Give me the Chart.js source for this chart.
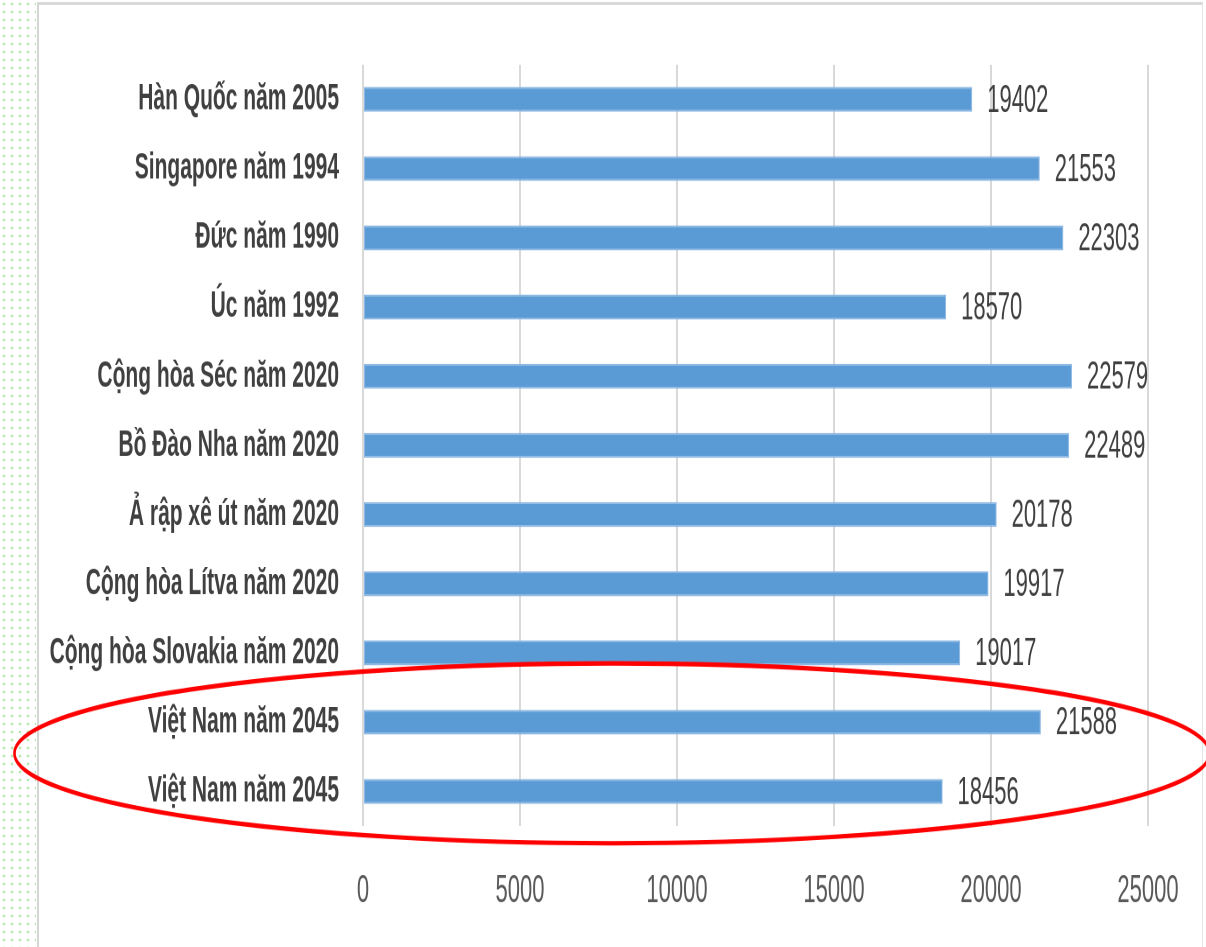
<!DOCTYPE html>
<html>
<head>
<meta charset="utf-8">
<script src="https://cdn.jsdelivr.net/npm/chart.js@4"></script>
<style>
  html, body { margin: 0; padding: 0; background: #fff; }
  body { width: 1206px; height: 947px; position: relative; overflow: hidden; }
  #dots {
    position: absolute; left: 0; top: 0; width: 36px; height: 947px;
    background-image: radial-gradient(circle, #b9e8ae 1.2px, transparent 1.7px);
    background-size: 8px 8px;
  }
  #frame {
    position: absolute; left: 37px; top: 2px; width: 1163px; height: 960px;
    border-left: 2px solid #d6d6d6; border-top: 3px solid #d9d9d9; border-right: 1px solid #e6e6e6;
  }
  #wrap {
    position: absolute; left: 0; top: 0; width: 1206px; height: 541px;
    transform: scale(1, 1.75); transform-origin: 0 0;
  }
</style>
</head>
<body>
<div id="dots"></div>
<div id="frame"></div>
<div id="wrap"><canvas id="myChart"></canvas></div>
<script>
const categories = ['Hàn Quốc năm 2005', 'Singapore năm 1994', 'Đức năm 1990', 'Úc năm 1992',
    'Cộng hòa Séc năm 2020', 'Bồ Đào Nha năm 2020', 'Ả rập xê út năm 2020', 'Cộng hòa Lítva năm 2020',
    'Cộng hòa Slovakia năm 2020', 'Việt Nam năm 2045', 'Việt Nam năm 2045']
const values = [19402, 21553, 22303, 18570, 22579, 22489, 20178, 19917, 19017, 21588, 18456]
const xTicks = [0, 5000, 10000, 15000, 20000, 25000]

const FONT = '"Liberation Sans Narrow", "Liberation Sans", sans-serif'

// so the numbers go at the end of each bar
const valueLabels = {
    id: 'valueLabels',
    afterDatasetsDraw(chart){
        const ctx = chart.ctx
        const meta = chart.getDatasetMeta(0)
        ctx.save()
        ctx.font = `22px ${FONT}`
        ctx.fillStyle = '#404040'
        ctx.textAlign = 'left'
        ctx.textBaseline = 'middle'
        meta.data.forEach((bar, i) => {
            ctx.fillText(String(values[i]), bar.x + 15, bar.y + 1)
        })
        ctx.restore()
    }
}

// red ring around the two last rows
const ring = {
    id: 'ring',
    afterDraw(chart){
        const ctx = chart.ctx
        const y = chart.scales.y
        const n = categories.length
        const cy = (y.getPixelForValue(n - 2) + y.getPixelForValue(n - 1)) / 2 - 2
        const step = y.getPixelForValue(1) - y.getPixelForValue(0)
        ctx.save()
        ctx.strokeStyle = '#ff0000'
        ctx.lineWidth = 2.6
        ctx.beginPath()
        ctx.ellipse(chart.width * 0.5075, cy, chart.width * 0.4955, step * 1.3, 0, 0, Math.PI * 2)
        ctx.stroke()
        ctx.restore()
    }
}

const ctx = document.getElementById('myChart')
new Chart(ctx, {
    type: 'bar',
    data: {
        labels: categories,
        datasets: [{
            data: values,
            backgroundColor: '#5b9bd5',
            borderColor: '#8db8e3',
            borderWidth: 1,
            borderSkipped: false,
            barPercentage: 0.36,
            categoryPercentage: 1
        }]
    },
    options: {
        indexAxis: 'y',
        responsive: true,
        maintainAspectRatio: false,
        animation: false,
        devicePixelRatio: 2,
        layout: { padding: { top: 37, right: 58, bottom: 0, left: 0 } },
        scales: {
            x: {
                min: 0,
                max: 25000,
                afterBuildTicks: scale => { scale.ticks = xTicks.map(v => ({ value: v })) },
                afterFit: scale => { scale.height = 69 },
                grid: { color: '#d9d9d9', lineWidth: 2, drawTicks: false },
                border: { display: false },
                ticks: {
                    color: '#595959',
                    padding: 24,
                    font: { family: FONT, size: 22 },
                    callback: v => String(v)
                }
            },
            y: {
                afterFit: scale => { scale.width = 363 },
                grid: { display: false },
                border: { display: false },
                ticks: { color: '#404040', padding: 16, font: { family: FONT, size: 21, weight: 'bold' } }
            }
        },
        plugins: {
            legend: { display: false },
            tooltip: { enabled: false }
        }
    },
    plugins: [valueLabels, ring]
})
</script>
</body>
</html>
